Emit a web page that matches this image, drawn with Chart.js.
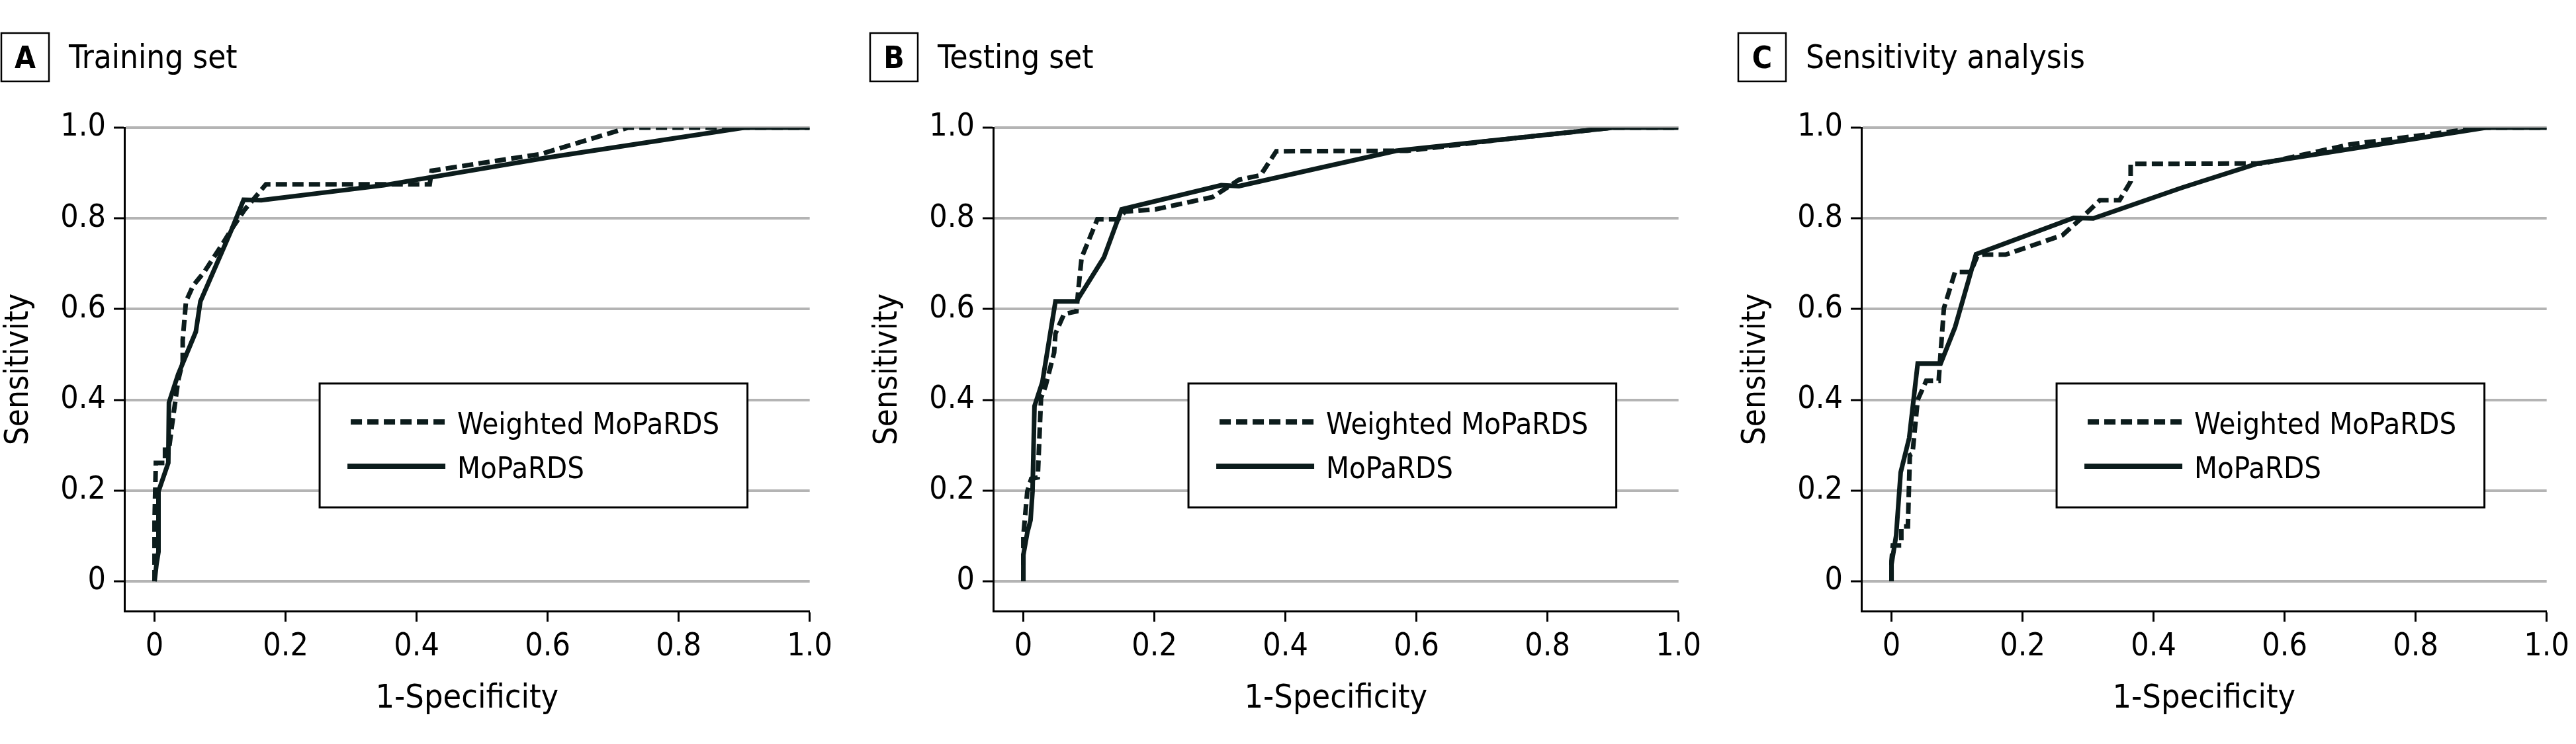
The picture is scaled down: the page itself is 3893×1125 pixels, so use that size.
<!DOCTYPE html>
<html>
<head>
<meta charset="utf-8">
<script src="https://cdn.jsdelivr.net/npm/chart.js@4.4.1/dist/chart.umd.min.js"></script>
<style>
    html, body { margin: 0; padding: 0; background: #fff; }
    body { width: 3893px; height: 1125px; position: relative; overflow: hidden; }
    canvas { position: absolute; top: 0; }
</style>
</head>
<body>
<canvas id="panelA" width="1268" height="1125" style="left:0px"></canvas>
<canvas id="panelB" width="1268" height="1125" style="left:1313px"></canvas>
<canvas id="panelC" width="1268" height="1125" style="left:2625px"></canvas>
<script>
const xTicks = [0, 0.2, 0.4, 0.6, 0.8, 1.0];
const yTicks = [0, 0.2, 0.4, 0.6, 0.8, 1.0];
const seriesNames = ["Weighted MoPaRDS", "MoPaRDS"];
const panelLetters = ["A", "B", "C"];
const panelTitles = ["Training set", "Testing set", "Sensitivity analysis"];

// A - training set
const trainWeightedFpr = [0, 0, 0.001, 0.002, 0.016, 0.016, 0.022, 0.026, 0.036, 0.043, 0.043, 0.048, 0.059, 0.076, 0.103, 0.117, 0.137, 0.170, 0.420, 0.423, 0.590, 0.723, 1.0];
const trainWeightedTpr = [0, 0.13, 0.198, 0.261, 0.261, 0.29, 0.29, 0.337, 0.442, 0.484, 0.532, 0.617, 0.652, 0.682, 0.742, 0.775, 0.818, 0.875, 0.875, 0.905, 0.942, 1.0, 1.0];
const trainFpr = [0, 0.003, 0.006, 0.006, 0.021, 0.022, 0.036, 0.063, 0.070, 0.117, 0.136, 0.163, 0.350, 0.600, 0.900, 1.0];
const trainTpr = [0, 0.038, 0.065, 0.198, 0.261, 0.394, 0.456, 0.550, 0.617, 0.773, 0.841, 0.840, 0.873, 0.934, 1.0, 1.0];

// B - testing set
const testWeightedFpr = [0, 0, 0.006, 0.012, 0.022, 0.027, 0.034, 0.047, 0.049, 0.062, 0.081, 0.084, 0.089, 0.113, 0.145, 0.155, 0.202, 0.289, 0.329, 0.362, 0.386, 0.586, 0.720, 0.900, 1.0];
const testWeightedTpr = [0, 0.100, 0.198, 0.226, 0.229, 0.404, 0.431, 0.504, 0.546, 0.589, 0.595, 0.644, 0.714, 0.798, 0.798, 0.815, 0.820, 0.847, 0.885, 0.895, 0.948, 0.949, 0.972, 1.0, 1.0];
const testFpr = [0, 0, 0.006, 0.011, 0.014, 0.017, 0.029, 0.049, 0.081, 0.123, 0.150, 0.302, 0.329, 0.436, 0.569, 0.900, 1.0];
const testTpr = [0, 0.058, 0.107, 0.135, 0.198, 0.386, 0.439, 0.617, 0.617, 0.714, 0.820, 0.873, 0.871, 0.906, 0.949, 1.0, 1.0];

// C - sensitivity analysis
const sensWeightedFpr = [0, 0, 0.002, 0.015, 0.015, 0.025, 0.028, 0.032, 0.040, 0.053, 0.072, 0.074, 0.080, 0.097, 0.121, 0.131, 0.141, 0.174, 0.261, 0.288, 0.318, 0.348, 0.365, 0.365, 0.567, 0.700, 0.900, 1.0];
const sensWeightedTpr = [0, 0.045, 0.079, 0.079, 0.121, 0.121, 0.278, 0.281, 0.400, 0.442, 0.442, 0.484, 0.602, 0.682, 0.682, 0.717, 0.720, 0.720, 0.763, 0.798, 0.840, 0.840, 0.881, 0.920, 0.921, 0.963, 1.0, 1.0];
const sensFpr = [0, 0, 0.007, 0.014, 0.027, 0.040, 0.075, 0.097, 0.129, 0.278, 0.308, 0.442, 0.559, 0.907, 1.0];
const sensTpr = [0, 0.038, 0.100, 0.240, 0.316, 0.480, 0.480, 0.560, 0.721, 0.801, 0.800, 0.867, 0.921, 1.0, 1.0];

// legend box corners in data units: [xLeft, xRight, yBottom, yTop]
const legendBox = [0.252, 0.905, 0.163, 0.436];

const FONT = "'DejaVu Sans Condensed', 'DejaVu Sans', sans-serif";
const INK = "#0c1c1c";

function toPoints(xs, ys) {
    return xs.map((x, i) => ({ x: x, y: ys[i] }));
}

function fmt(v) {
    return v === 0 ? "0" : v.toFixed(1);
}

const panelTitle = {
    id: "panelTitle",
    afterDraw(chart, args, opts) {
        const ctx = chart.ctx;
        const left = chart.chartArea.left - 187;
        ctx.save();
        ctx.lineWidth = 2.5;
        ctx.strokeStyle = "#000";
        ctx.strokeRect(left + 1, 50, 72, 73);
        ctx.fillStyle = "#000";
        ctx.textBaseline = "alphabetic";
        ctx.textAlign = "center";
        ctx.font = "bold 46px " + FONT;
        ctx.fillText(opts.letter, left + 37, 103);
        ctx.textAlign = "left";
        ctx.font = "49px " + FONT;
        ctx.fillText(opts.text, left + 103, 103);
        ctx.restore();
    }
};

const boxLegend = {
    id: "boxLegend",
    afterDatasetsDraw(chart) {
        const ctx = chart.ctx;
        const x = chart.scales.x, y = chart.scales.y;
        const L = x.getPixelForValue(legendBox[0]);
        const R = x.getPixelForValue(legendBox[1]);
        const T = y.getPixelForValue(legendBox[3]);
        const B = y.getPixelForValue(legendBox[2]);
        ctx.save();
        ctx.fillStyle = "#fff";
        ctx.fillRect(L, T, R - L, B - T);
        ctx.lineWidth = 3;
        ctx.strokeStyle = "#000";
        ctx.strokeRect(L, T, R - L, B - T);
        chart.data.datasets.forEach((ds, i) => {
            const rowY = T + 58 + i * 67;
            const dashed = ds.borderDash && ds.borderDash.length;
            ctx.beginPath();
            ctx.setLineDash(dashed ? ds.borderDash : []);
            ctx.lineWidth = 8;
            ctx.lineCap = "butt";
            ctx.strokeStyle = ds.borderColor;
            ctx.moveTo(L + (dashed ? 47 : 42), rowY);
            ctx.lineTo(L + 190, rowY);
            ctx.stroke();
            ctx.setLineDash([]);
            ctx.fillStyle = "#000";
            ctx.font = "45px " + FONT;
            ctx.textAlign = "left";
            ctx.textBaseline = "alphabetic";
            ctx.fillText(ds.label, L + 208, rowY + 18);
        });
        ctx.restore();
    }
};

function criarPainel(id, idx, weighted, plain) {
    const ctx = document.getElementById(id).getContext("2d");
    return new Chart(ctx, {
        type: "line",
        data: {
            datasets: [{
                label: seriesNames[0],
                data: weighted,
                borderColor: INK,
                borderWidth: 7,
                borderDash: [17, 8],
                borderCapStyle: "butt",
                pointRadius: 0,
                tension: 0,
                fill: false
            }, {
                label: seriesNames[1],
                data: plain,
                borderColor: INK,
                borderWidth: 7,
                borderCapStyle: "butt",
                pointRadius: 0,
                tension: 0,
                fill: false
            }]
        },
        options: {
            responsive: false,
            animation: false,
            devicePixelRatio: 1,
            layout: { padding: { left: 0, right: 38, top: 193, bottom: 0 } },
            plugins: {
                legend: { display: false },
                tooltip: { enabled: false },
                panelTitle: { letter: panelLetters[idx], text: panelTitles[idx] }
            },
            scales: {
                x: {
                    type: "linear",
                    min: -0.046,
                    max: 1.0,
                    afterBuildTicks: (axis) => { axis.ticks = xTicks.map(v => ({ value: v })); },
                    afterFit: (axis) => { axis.height = 201; },
                    grid: { drawOnChartArea: false, drawTicks: true, tickLength: 16, tickColor: "#000", tickWidth: 3 },
                    border: { display: true, color: "#000", width: 3 },
                    ticks: { color: "#000", font: { family: FONT, size: 48 }, padding: 10, maxRotation: 0, autoSkip: false, callback: fmt },
                    title: { display: true, text: "1-Specificity", color: "#000", font: { family: FONT, size: 50 }, padding: { top: 0, bottom: 38 } }
                },
                y: {
                    type: "linear",
                    min: -0.0656,
                    max: 1.0,
                    afterBuildTicks: (axis) => { axis.ticks = yTicks.map(v => ({ value: v })); },
                    afterFit: (axis) => { axis.width = 188; },
                    grid: { color: "#b4b4b4", lineWidth: 4, drawTicks: true, tickLength: 16, tickColor: "#000", tickWidth: 3 },
                    border: { display: true, color: "#000", width: 3 },
                    ticks: { color: "#000", font: { family: FONT, size: 48 }, padding: 12, autoSkip: false, callback: fmt },
                    title: { display: true, text: "Sensitivity", color: "#000", font: { family: FONT, size: 49 }, padding: 0 }
                }
            }
        },
        plugins: [panelTitle, boxLegend]
    });
}

criarPainel("panelA", 0, toPoints(trainWeightedFpr, trainWeightedTpr), toPoints(trainFpr, trainTpr));
criarPainel("panelB", 1, toPoints(testWeightedFpr, testWeightedTpr), toPoints(testFpr, testTpr));
criarPainel("panelC", 2, toPoints(sensWeightedFpr, sensWeightedTpr), toPoints(sensFpr, sensTpr));
</script>
</body>
</html>
